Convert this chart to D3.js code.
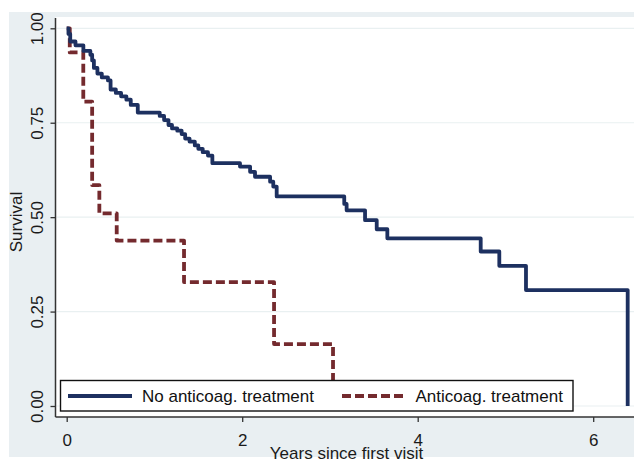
<!DOCTYPE html>
<html>
<head>
<meta charset="utf-8">
<script src="https://cdn.jsdelivr.net/npm/d3@7"></script>
<style>
  html, body { margin: 0; padding: 0; background: #ffffff; }
  svg { display: block; font-family: "Liberation Sans", Arial, sans-serif; }
</style>
</head>
<body>
<svg id="chart" width="634" height="459"></svg>
<script>
// ---- data ----
const noTreatTimes = [0, 0.02, 0.04, 0.10, 0.19, 0.27, 0.29, 0.31, 0.35, 0.40, 0.47, 0.50, 0.56, 0.62, 0.68, 0.73, 0.81,
  1.06, 1.11, 1.16, 1.20, 1.26, 1.31, 1.35, 1.40, 1.46, 1.50, 1.55, 1.61, 1.66,
  1.975, 2.09, 2.146, 2.318, 2.354, 2.393, 3.163, 3.19, 3.40, 3.533, 3.654, 4.718, 4.93, 5.234, 6.393];
const noTreatSurv = [1.000, 0.985, 0.965, 0.955, 0.940, 0.930, 0.915, 0.895, 0.880, 0.870, 0.862, 0.838, 0.829, 0.820, 0.811, 0.797, 0.777,
  0.768, 0.757, 0.744, 0.735, 0.729, 0.720, 0.708, 0.700, 0.690, 0.681, 0.672, 0.663, 0.643,
  0.634, 0.620, 0.607, 0.594, 0.581, 0.555, 0.535, 0.518, 0.492, 0.468, 0.444, 0.409, 0.371, 0.307, 0.000];

const treatTimes = [0, 0.035, 0.189, 0.29, 0.372, 0.57, 1.337, 2.363, 3.035];
const treatSurv  = [1.000, 0.936, 0.806, 0.585, 0.510, 0.438, 0.328, 0.164, 0.000];

const xTicks = [0, 2, 4, 6];
const yTicks = [0, 0.25, 0.5, 0.75, 1];
const seriesNames = ["No anticoag. treatment", "Anticoag. treatment"];
const xTitle = "Years since first visit";
const yTitle = "Survival";

// ---- layout ----
const svg = d3.select("#chart");
const plot = { left: 55.5, right: 640, top: 17, bottom: 417 };
const navy = "#1d3060";
const maroon = "#742a2e";
const bgGray = "#e9eff2";
const gridCol = "#e9f0f1";
const font = 17;

const x = d3.scaleLinear().domain([0, 6]).range([66.7, 593.2]);
const y = d3.scaleLinear().domain([0, 1]).range([406, 28.3]);

// outer graph region
svg.append("rect").attr("x", 9).attr("y", 12).attr("width", 640).attr("height", 445).attr("fill", bgGray);
// plot region
svg.append("rect").attr("x", plot.left).attr("y", plot.top)
  .attr("width", plot.right - plot.left).attr("height", plot.bottom - plot.top).attr("fill", "#ffffff");

// gridlines
svg.append("g").selectAll("line").data(yTicks).join("line")
  .attr("x1", plot.left + 1).attr("x2", plot.right)
  .attr("y1", d => y(d)).attr("y2", d => y(d))
  .attr("stroke", gridCol).attr("stroke-width", 1.2);

// y axis
const yAxis = d3.axisLeft(y).tickValues(yTicks).tickFormat(d3.format(".2f")).tickSize(5).tickPadding(0);
const gy = svg.append("g").attr("transform", `translate(${plot.left},0)`).call(yAxis);
gy.select(".domain").remove();
gy.selectAll(".tick line").attr("stroke", "#333").attr("stroke-width", 1.3);
gy.selectAll(".tick text")
  .attr("x", 0).attr("y", 0).attr("dy", 0)
  .attr("transform", "translate(-13,0) rotate(-90)")
  .attr("text-anchor", "middle")
  .attr("font-size", font).attr("font-family", "Liberation Sans, Arial, sans-serif")
  .attr("fill", "#1a1a1a");

// x axis
const xAxis = d3.axisBottom(x).tickValues(xTicks).tickFormat(d3.format("d")).tickSize(5).tickPadding(0);
const gx = svg.append("g").attr("transform", `translate(0,${plot.bottom})`).call(xAxis);
gx.select(".domain").remove();
gx.selectAll(".tick line").attr("stroke", "#333").attr("stroke-width", 1.3);
gx.selectAll(".tick text")
  .attr("y", 29).attr("dy", 0)
  .attr("font-size", font).attr("font-family", "Liberation Sans, Arial, sans-serif")
  .attr("fill", "#1a1a1a");

// axis lines
svg.append("line").attr("x1", plot.left).attr("x2", plot.left).attr("y1", plot.top + 1).attr("y2", plot.bottom)
  .attr("stroke", "#333").attr("stroke-width", 1.5);
svg.append("line").attr("x1", plot.left).attr("x2", plot.right).attr("y1", plot.bottom).attr("y2", plot.bottom)
  .attr("stroke", "#333").attr("stroke-width", 1.5);

// survival curves
const line = d3.line().x(d => x(d[0])).y(d => y(d[1])).curve(d3.curveStepAfter);
const noTreat = noTreatTimes.map((t, i) => [t, noTreatSurv[i]]);
const treat = treatTimes.map((t, i) => [t, treatSurv[i]]);

svg.append("path").datum(treat).attr("d", line)
  .attr("fill", "none").attr("stroke", maroon).attr("stroke-width", 3.8)
  .attr("stroke-dasharray", "9,4").attr("stroke-linejoin", "round");
svg.append("path").datum(noTreat).attr("d", line)
  .attr("fill", "none").attr("stroke", navy).attr("stroke-width", 3.8)
  .attr("stroke-linejoin", "round");

// legend
const lg = svg.append("g");
lg.append("rect").attr("x", 60.5).attr("y", 380.5).attr("width", 512.5).attr("height", 30.5)
  .attr("fill", "#ffffff").attr("stroke", "#111").attr("stroke-width", 1.4);
lg.append("line").attr("x1", 68).attr("x2", 132).attr("y1", 396).attr("y2", 396)
  .attr("stroke", navy).attr("stroke-width", 3.8);
lg.append("text").attr("x", 142).attr("y", 402).attr("font-size", font).attr("fill", "#111").text(seriesNames[0]);
lg.append("line").attr("x1", 342).attr("x2", 404).attr("y1", 396).attr("y2", 396)
  .attr("stroke", maroon).attr("stroke-width", 3.8).attr("stroke-dasharray", "9,4");
lg.append("text").attr("x", 415.5).attr("y", 402).attr("font-size", font).attr("fill", "#111").text(seriesNames[1]);

// axis titles
svg.append("text").attr("x", 346.5).attr("y", 458.5).attr("text-anchor", "middle")
  .attr("font-size", font).attr("fill", "#1a1a1a").text(xTitle);
svg.append("text").attr("transform", "translate(22,222) rotate(-90)").attr("text-anchor", "middle")
  .attr("font-size", font).attr("fill", "#1a1a1a").text(yTitle);
</script>
</body>
</html>
